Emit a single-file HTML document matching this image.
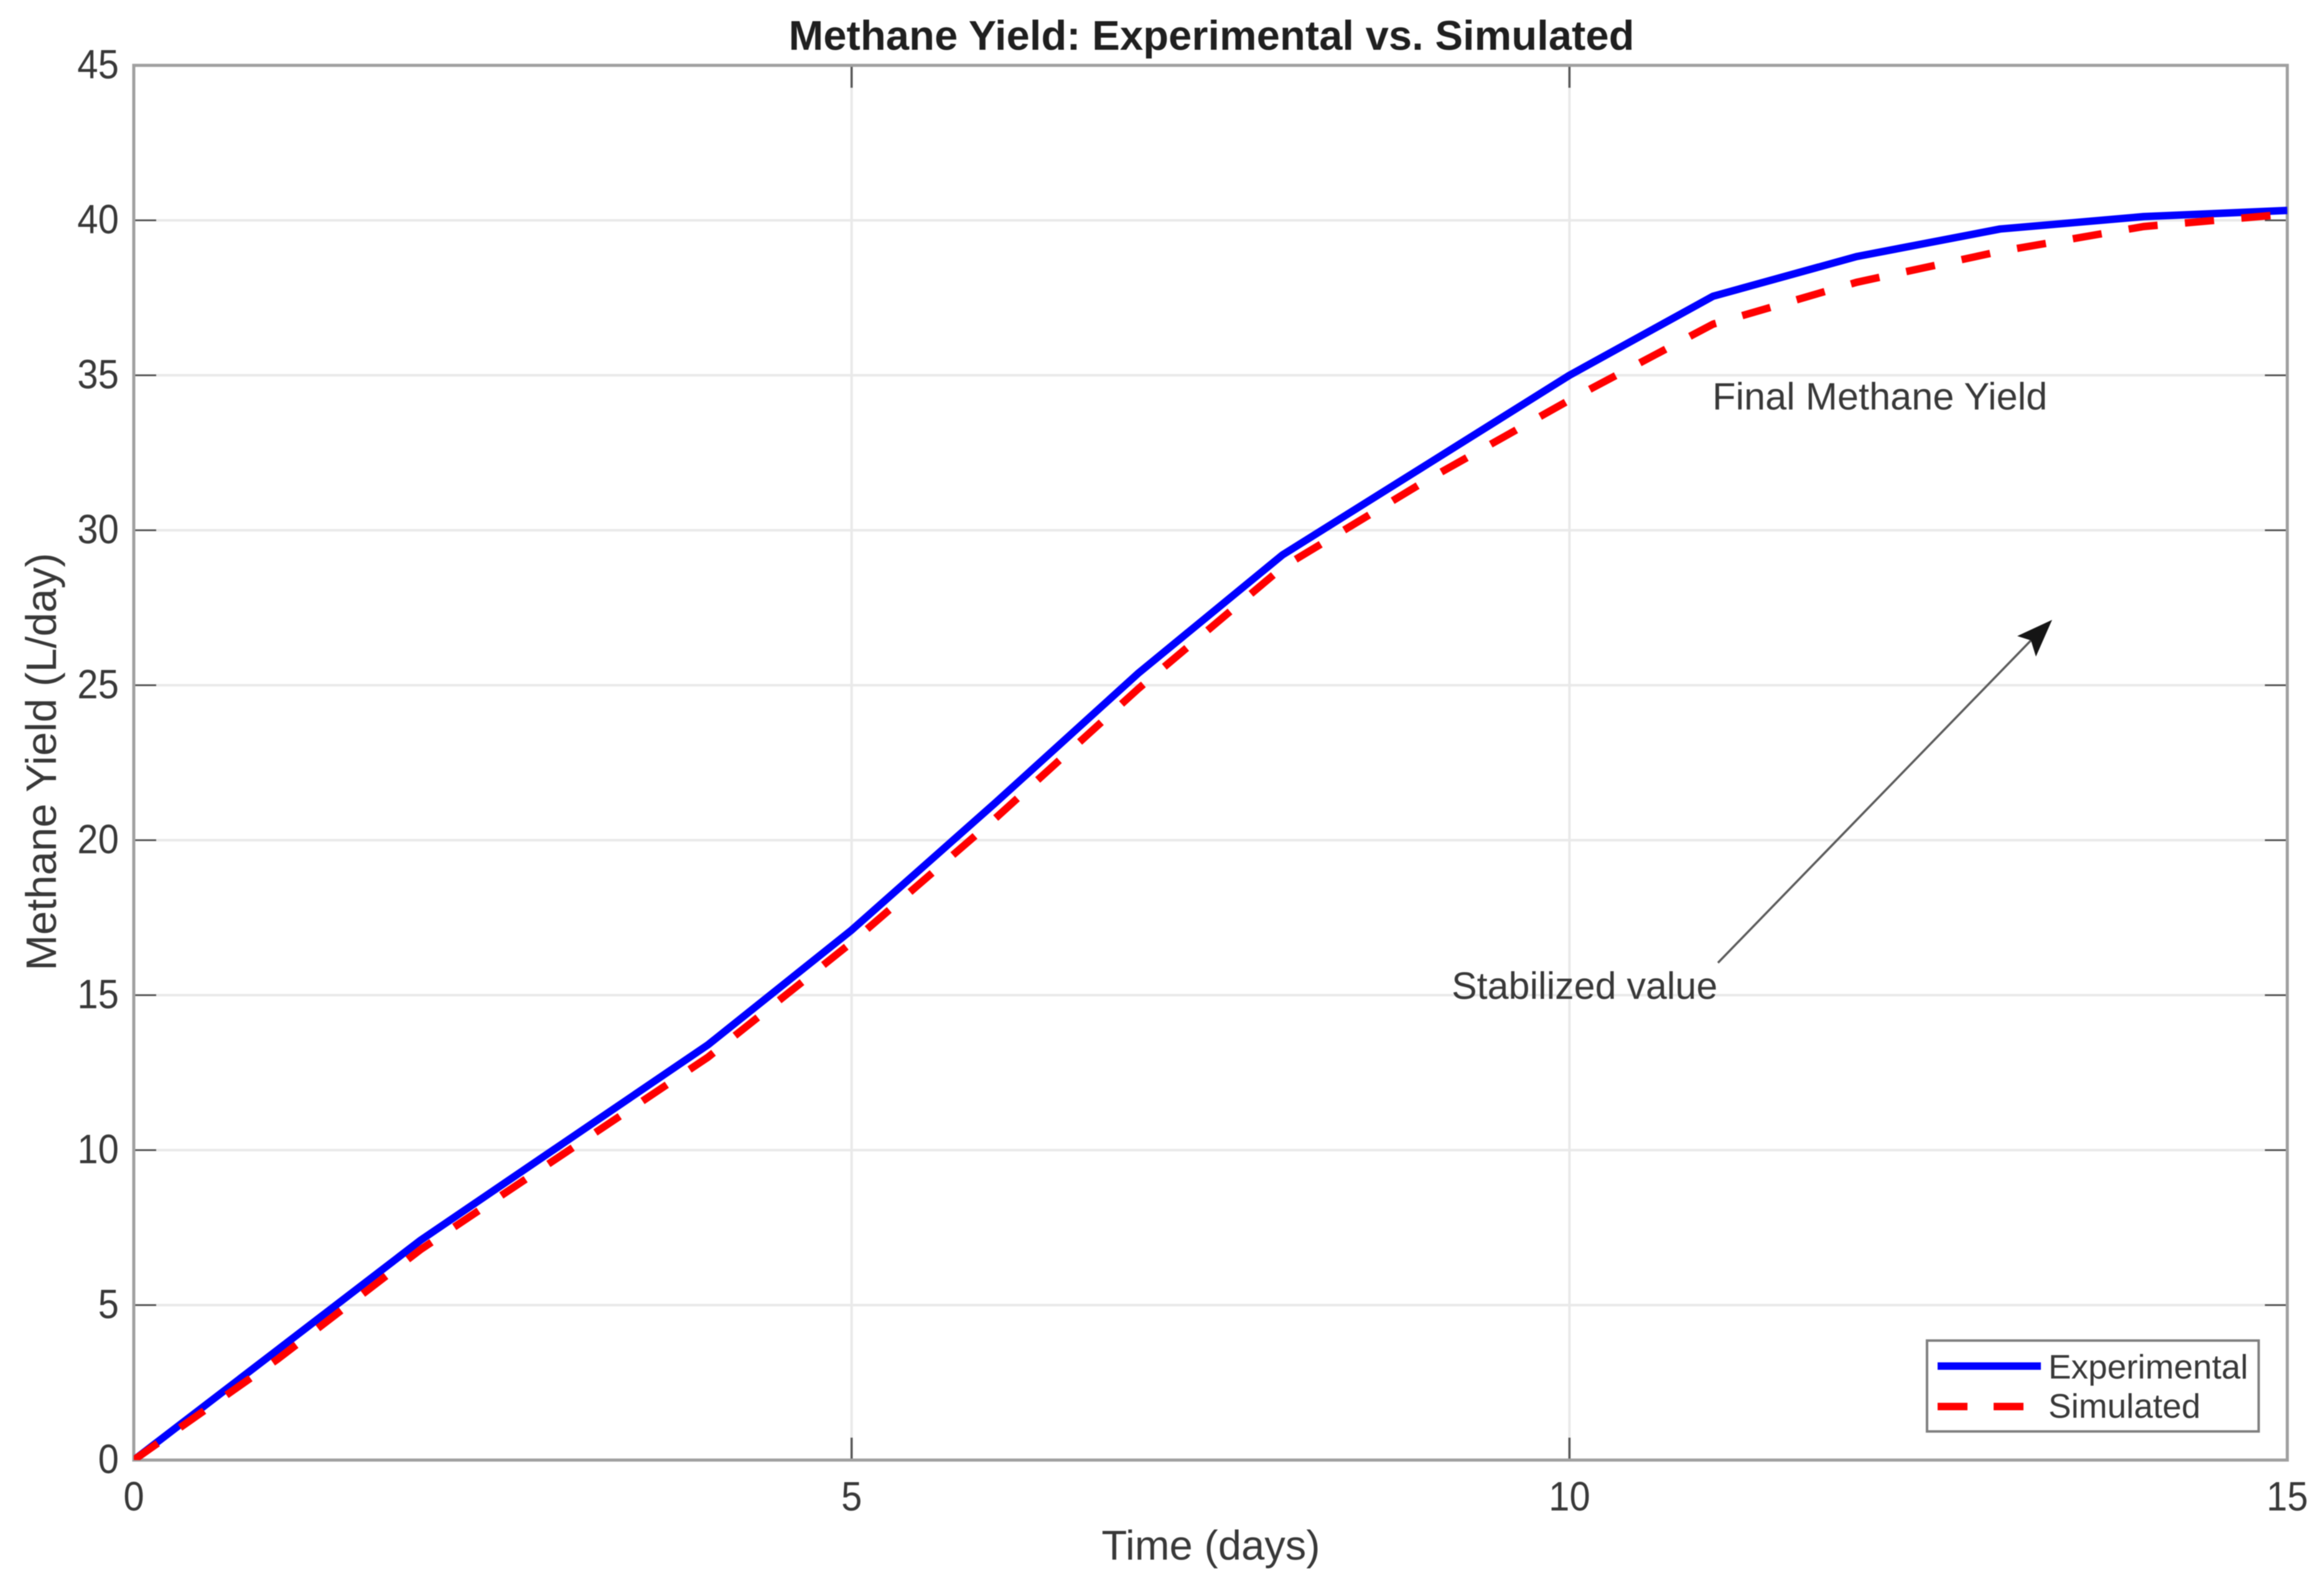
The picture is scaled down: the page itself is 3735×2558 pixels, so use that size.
<!DOCTYPE html>
<html lang="en">
<head>
<meta charset="utf-8">
<title>Methane Yield: Experimental vs. Simulated</title>
<style>
  html, body { margin: 0; padding: 0; background: #fff; }
  svg { display: block; filter: blur(0.7px); }
  text { font-family: "Liberation Sans", Arial, sans-serif; fill: #383838; }
</style>
</head>
<body>
<svg id="chart" xmlns="http://www.w3.org/2000/svg" width="3735" height="2558" viewBox="0 0 3735 2558">
  <defs>
    <clipPath id="plot-clip"><rect x="215" y="105" width="3461" height="2241"></rect></clipPath>
  </defs>
  <rect x="0" y="0" width="3735" height="2558" fill="#ffffff"></rect>
  <g id="grid"></g>
  <g id="ticks"></g>
  <rect x="215" y="105" width="3461" height="2241" fill="none" stroke="#a0a0a0" stroke-width="5"></rect>
  <g id="tick-labels"></g>
  <g id="series" clip-path="url(#plot-clip)"></g>

  <text x="1947" y="80" font-size="67" font-weight="bold" text-anchor="middle" style="fill:#1f1f1f">Methane Yield: Experimental vs. Simulated</text>
  <text x="1946" y="2506" font-size="67" text-anchor="middle">Time (days)</text>
  <text transform="translate(90 1224) rotate(-90)" font-size="69" text-anchor="middle">Methane Yield (L/day)</text>

  <text x="2752" y="658" font-size="61.3">Final Methane Yield</text>
  <text x="2333" y="1605" font-size="61">Stabilized value</text>
  <line x1="2761" y1="1547" x2="3264" y2="1029" stroke="#5a5a5a" stroke-width="3.5"></line>
  <polygon points="3298,996 3272,1055 3264,1029 3242,1022" fill="#151515"></polygon>

  <g>
    <rect x="3097" y="2154" width="533" height="146" fill="#ffffff" stroke="#808080" stroke-width="4"></rect>
    <line x1="3114" y1="2195" x2="3280" y2="2195" stroke="#0000ff" stroke-width="12"></line>
    <text x="3292" y="2215" font-size="55">Experimental</text>
    <line x1="3114" y1="2260" x2="3280" y2="2260" stroke="#ff0000" stroke-width="12" stroke-dasharray="48 42"></line>
    <text x="3292" y="2278" font-size="55">Simulated</text>
  </g>
</svg>
<script>
const days = [0, 1, 2, 3, 4, 5, 6, 7, 8, 9, 10, 11, 12, 13, 14, 15];
const experimental = [0, 3.55, 7.1, 10.25, 13.4, 17.1, 21.2, 25.4, 29.2, 32.1, 35, 37.55, 38.83, 39.72, 40.12, 40.32];
const simulated = [0, 3.25, 6.8, 9.9, 13.0, 16.7, 20.7, 24.9, 28.8, 31.6, 34.2, 36.65, 38.0, 39.0, 39.8, 40.2];
const xTicks = [0, 5, 10, 15];
const yTicks = [0, 5, 10, 15, 20, 25, 30, 35, 40, 45];

const NS = 'http://www.w3.org/2000/svg';
const plotLeft = 215, plotRight = 3676, plotTop = 105, plotBottom = 2346;
const xMax = 15, yMax = 45;
const tickLen = 36;

function xScale(v) { return plotLeft + (v / xMax) * (plotRight - plotLeft); }
function yScale(v) { return plotBottom - (v / yMax) * (plotBottom - plotTop); }

function make(tag, attrs) {
  const el = document.createElementNS(NS, tag);
  for (const k in attrs) el.setAttribute(k, attrs[k]);
  return el;
}

const grid = document.getElementById('grid');
const ticks = document.getElementById('ticks');
const tickLabels = document.getElementById('tick-labels');
const series = document.getElementById('series');

xTicks.forEach(function (t) {
  const x = xScale(t);
  const g = make('line', { x1: x, y1: plotTop, x2: x, y2: plotBottom, stroke: '#e9e9e9', 'stroke-width': 4 });
  
  
  grid.appendChild(g);

  [[plotBottom, plotBottom - tickLen], [plotTop, plotTop + tickLen]].forEach(function (p) {
    const tk = make('line', { x1: x, y1: p[0], x2: x, y2: p[1], stroke: '#555555', 'stroke-width': 3.5 });
    
    
    ticks.appendChild(tk);
  });

  const lb = make('text', { transform: 'translate(' + x + ' 2427) scale(1 1.1)', 'font-size': 60, 'text-anchor': 'middle' });
  
  
  lb.textContent = String(t);
  tickLabels.appendChild(lb);
});

yTicks.forEach(function (t) {
  const y = yScale(t);
  const g = make('line', { x1: plotLeft, y1: y, x2: plotRight, y2: y, stroke: '#e9e9e9', 'stroke-width': 4 });
  
  
  grid.appendChild(g);

  [[plotLeft, plotLeft + tickLen], [plotRight, plotRight - tickLen]].forEach(function (p) {
    const tk = make('line', { x1: p[0], y1: y, x2: p[1], y2: y, stroke: '#444444', 'stroke-width': 2.5 });
    
    
    ticks.appendChild(tk);
  });

  const lb = make('text', { transform: 'translate(191 ' + (y + 21) + ') scale(1 1.1)', 'font-size': 60, 'text-anchor': 'end' });
  
  
  lb.textContent = String(t);
  tickLabels.appendChild(lb);
});

function pointsFor(values) {
  return values.map(function (v, i) { return xScale(days[i]) + ',' + yScale(v); }).join(' ');
}

const expLine = make('polyline', { points: pointsFor(experimental), fill: 'none', stroke: '#0000ff', 'stroke-width': 12, 'stroke-linejoin': 'round' });


series.appendChild(expLine);

const simLine = make('polyline', { points: pointsFor(simulated), fill: 'none', stroke: '#ff0000', 'stroke-width': 12, 'stroke-dasharray': '47 44' });


series.appendChild(simLine);
</script>
</body>
</html>
